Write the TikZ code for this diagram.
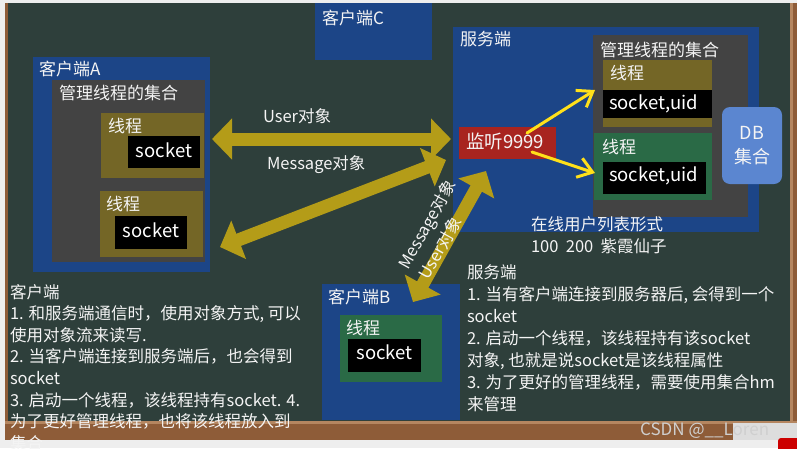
\documentclass[tikz,border=0pt]{standalone}
\usepackage{fontspec}
\setmainfont{Noto Sans CJK SC}
\usetikzlibrary{arrows.meta}
\definecolor{board}{HTML}{2E3F3B}
\definecolor{bluebx}{HTML}{1C4587}
\definecolor{greybx}{HTML}{434343}
\definecolor{olivebx}{HTML}{746626}
\definecolor{greenbx}{HTML}{2A6A46}
\definecolor{redbx}{HTML}{A8241F}
\definecolor{dbbx}{HTML}{5B86D0}
\definecolor{bigarr}{HTML}{B49C18}
\definecolor{smallarr}{HTML}{FFE01A}
\definecolor{txt}{HTML}{F4F4F4}
\definecolor{wood}{HTML}{8E5C38}
\definecolor{woodlight}{HTML}{B58660}
\definecolor{paper}{HTML}{EEEEEE}
\definecolor{wmark}{HTML}{CFCFCF}
\newcommand{\mkbox}[6]{\node[box, fill=#6, minimum width={(#4-#2)*1pt}, minimum height={(#5-#3)*1pt}] (#1) at (#2,#3) {};}
\begin{document}
\begin{tikzpicture}[x=1pt,y=-1pt,
 box/.style={anchor=north west, inner sep=0pt, outer sep=0pt, draw=none},
 lbl/.style={anchor=base west, inner sep=0pt, outer sep=0pt, text=txt, font=\fontsize{17}{17}\selectfont},
 desc/.style={anchor=base west, inner sep=0pt, outer sep=0pt, text=txt, font=\fontsize{16.5}{16.5}\selectfont},
 sock/.style={anchor=base, inner sep=0pt, outer sep=0pt, text=white, font=\fontsize{18.5}{18.5}\selectfont},
 bigarrow/.style={draw=bigarr, line width=13pt, {Triangle[length=20pt,width=40pt]}-{Triangle[length=20pt,width=40pt]}},
 ylwarrow/.style={draw=smallarr, line width=3pt, line cap=round, -{Straight Barb[length=14pt,width=20pt]}},
]
\useasboundingbox (0,0) rectangle (797,448);
\clip (0,0) rectangle (797,448);
% frame and board
\fill[paper] (0,0) rectangle (797,448);
\fill[board] (8,3) rectangle (790,422);
\fill[wood] (5,3) rectangle (8,440);
\fill[woodlight] (790,3) rectangle (793,440);
\fill[wood] (793,3) rectangle (797,440);
\fill[wood] (5,421) rectangle (797,440);
\fill[woodlight] (5,421) rectangle (797,424);
\fill[paper] (0,440) rectangle (797,448);
\fill[paper!85!gray] (733,423) rectangle (797,440);
\fill[red!80!black, rounded corners=3pt] (778,438) rectangle (800,452);

% boxes
\mkbox{C}{315}{3}{432}{60}{bluebx}
\mkbox{A}{33}{57}{210}{272}{bluebx}
\mkbox{gA}{52}{80}{205}{262}{greybx}
\mkbox{thA1}{101}{113}{204}{178}{olivebx}
\mkbox{skA1}{128}{136}{200}{168}{black}
\mkbox{thA2}{100}{191}{203}{257}{olivebx}
\mkbox{skA2}{115}{216}{187}{249}{black}
\mkbox{S}{453}{27}{759}{232}{bluebx}
\mkbox{gS}{593}{35}{748}{217}{greybx}
\mkbox{thS1}{603}{60}{712}{127}{olivebx}
\mkbox{skS1}{603}{90}{712}{118}{black}
\mkbox{thS2}{594}{133}{712}{200}{greenbx}
\mkbox{skS2}{603}{162}{706}{194}{black}
\mkbox{lis}{459}{127}{556}{159}{redbx}
\mkbox{B}{322}{284}{460}{420}{bluebx}
\mkbox{thB}{340}{315}{442}{382}{greenbx}
\mkbox{skB}{348}{339}{421}{372}{black}
\node[box, fill=dbbx, rounded corners=8pt, minimum width=60pt, minimum height=77pt] (db) at (722,107) {};
\node[inner sep=0pt, text=txt, align=center, font=\fontsize{18}{24}\selectfont] (dbt) at (db.center) {DB\\集合};

% big arrows
\draw[bigarrow] ([xshift=8pt,yshift=6.5pt]thA1.east) -- ([xshift=-2pt,yshift=-9.5pt]S.west);
\draw[bigarrow] ([xshift=17pt,yshift=-23pt]thA2.east) -- ([xshift=-7pt,yshift=-30.5pt]S.west);
\draw[bigarrow] ([xshift=22pt,yshift=-18pt]B.north) -- ([xshift=-21.5pt,yshift=-12pt]lis.south);
% small arrows
\draw[ylwarrow] ([xshift=-29pt,yshift=-6pt]lis.north east) -- ([xshift=-8pt,yshift=3.5pt]thS1.west);
\draw[ylwarrow] ([xshift=-24pt,yshift=7pt]lis.south east) -- ([xshift=1pt,yshift=-6.5pt]thS2.west);

% box labels
\node[lbl] (tC) at (322,24.5) {客户端C};
\node[lbl] (tA) at (39,75) {客户端A};
\node[lbl] (tgA) at (59,99) {管理线程的集合};
\node[lbl] (tthA1) at (108,132) {线程};
\node[lbl] (tthA2) at (106,210) {线程};
\node[sock] (tskA1) at (164,157) {socket};
\node[sock] (tskA2) at (151,237) {socket};
\node[lbl] (tS) at (460,45) {服务端};
\node[lbl] (tgS) at (600,56) {管理线程的集合};
\node[lbl] (tthS1) at (610,79) {线程};
\node[lbl] (tthS2) at (602,153) {线程};
\node[sock, anchor=base west] (tskS1) at (609,109) {socket,uid};
\node[sock, anchor=base west] (tskS2) at (609,181) {socket,uid};
\node[sock, anchor=base west, text=txt] (tlis) at (466,148.5) {监听9999};
\node[desc] (tl1) at (531,230) {在线用户列表形式};
\node[desc] (tl2) at (531,252) {100\ \ 200\ \ 紫霞仙子};
\node[lbl] (tB) at (328,303.5) {客户端B};
\node[lbl] (tthB) at (346,334) {线程};
\node[sock] (tskB) at (384.5,359) {socket};

% arrow labels
\node[desc] (uo) at (263,122) {User对象};
\node[desc] (mo) at (267,169) {Message对象};
\node[desc, anchor=center, rotate=60.9] (mo2) at (428,225) {Message对象};
\node[desc, anchor=center, rotate=60.9] (uo2) at (440,248) {User对象};

% descriptions
\node[desc] (c0) at (10,298) {客户端};
\node[desc] (c1) at (10,319.6) {1. 和服务端通信时，使用对象方式, 可以};
\node[desc] (c2) at (10,341.2) {使用对象流来读写.};
\node[desc] (c3) at (10,362.8) {2. 当客户端连接到服务端后，也会得到};
\node[desc] (c4) at (10,384.4) {socket};
\node[desc] (c5) at (10,406) {3. 启动一个线程，该线程持有socket. 4.};
\node[desc] (c6) at (10,427.6) {为了更好管理线程，也将该线程放入到};
\node[desc] (c7) at (10,449.2) {集合};

\node[desc] (s0) at (467,278.5) {服务端};
\node[desc] (s1) at (467,300.5) {1. 当有客户端连接到服务器后, 会得到一个};
\node[desc] (s2) at (467,322.4) {socket};
\node[desc] (s3) at (467,344.3) {2. 启动一个线程，该线程持有该socket};
\node[desc] (s4) at (467,366.2) {对象, 也就是说socket是该线程属性};
\node[desc] (s5) at (467,388.1) {3. 为了更好的管理线程，需要使用集合hm};
\node[desc] (s6) at (467,410) {来管理};

\node[anchor=base west, inner sep=0pt, text=wmark, font=\fontsize{17}{17}\selectfont] (wm) at (640,435) {CSDN @\_\_Loren};
\end{tikzpicture}
\end{document}
